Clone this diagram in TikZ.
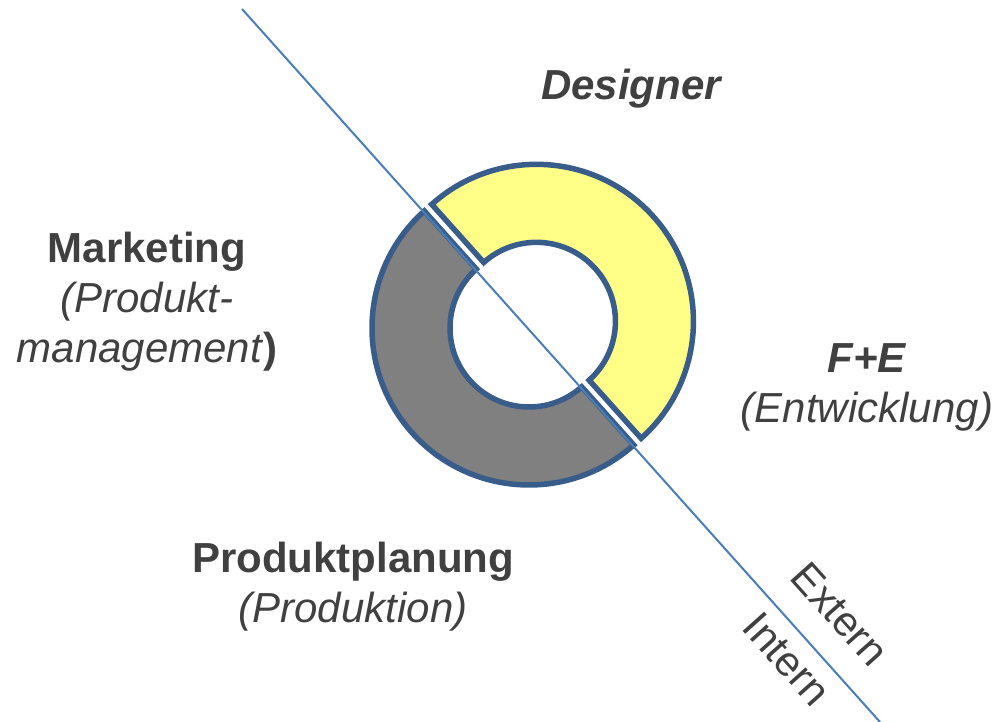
\documentclass[tikz,border=0pt]{standalone}
\usepackage{fontspec}
\setmainfont{Liberation Sans}
\usepackage{xcolor}
\usepackage{tikz}
\usetikzlibrary{positioning}
\definecolor{LabelGrey}{HTML}{404040}
\definecolor{RingEdge}{HTML}{385D8A}
\definecolor{SplitBlue}{HTML}{4A7EBB}
\definecolor{PaleYellow}{HTML}{FFFF88}
\definecolor{MidGrey}{HTML}{808080}

\begin{document}
\begin{tikzpicture}[x=1pt,y=1pt]
  \path[use as bounding box] (0,0) rectangle (998,722);

  \tikzset{
    pdRingHalf/.style={
      draw=RingEdge,
      line width=5.5pt
    },
    pdSplit/.style={
      draw=SplitBlue,
      line width=2pt
    },
    pdLabel/.style={
      text=LabelGrey,
      align=center,
      inner sep=0pt,
      font=\fontsize{42}{50}\selectfont
    },
    pdSide/.style={
      pdLabel,
      rotate=-48.17
    }
  }

  % Mittelpunkte der beiden Ringhaelften, leicht auseinandergezogen
  \coordinate (ringLow) at (529,394);
  \coordinate (ringUp)  at (536.45,400.67);

  % obere Haelfte: extern
  \begin{scope}[shift={(ringUp)}]
    \draw[pdRingHalf,fill=PaleYellow]
      (131.83:157) arc[start angle=131.83,end angle=-48.17,radius=157]
      -- (-48.17:79) arc[start angle=-48.17,end angle=131.83,radius=79]
      -- cycle;
  \end{scope}

  % untere Haelfte: intern
  \begin{scope}[shift={(ringLow)}]
    \draw[pdRingHalf,fill=MidGrey]
      (131.83:157) arc[start angle=131.83,end angle=311.83,radius=157]
      -- (311.83:79) arc[start angle=311.83,end angle=131.83,radius=79]
      -- cycle;
  \end{scope}

  % Trennlinie extern / intern
  \coordinate (splitTop) at (242,713);
  \coordinate (splitEnd) at (880,0);
  \draw[pdSplit] (splitTop) -- (splitEnd);

  % Beteiligte rund um den Ring
  \node[pdLabel,anchor=base] (designer) at (632,622)
    {\textbf{\textit{Designer}}};
  \node[pdLabel] (marketing) at (147,420.5)
    {\textbf{Marketing}\\\textit{(Produkt-}\\\textit{management}\textbf{)}};
  \node[pdLabel] (fe) at (867,335)
    {\textbf{\textit{F+E}}\\\textit{(Entwicklung)}};
  \node[pdLabel] (planning) at (353,135)
    {\textbf{Produktplanung}\\\textit{(Produktion)}};

  % Beschriftung der beiden Seiten
  \node[pdSide] (extern) at (840,108) {Extern};
  \node[pdSide] (intern) at (787,63)  {Intern};
\end{tikzpicture}
\end{document}
